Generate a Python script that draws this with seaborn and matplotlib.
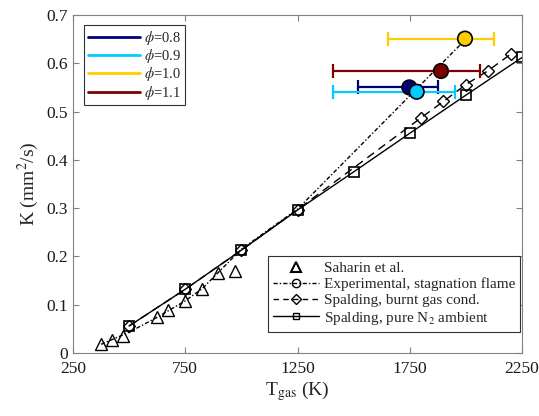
import matplotlib
matplotlib.use("Agg")
import matplotlib.pyplot as plt
from matplotlib.lines import Line2D
import seaborn as sns
import pandas as pd

# Saharin et al. data (triangles)
saharin_T = [375, 425, 475, 625, 675, 750, 825, 895, 970]
saharin_K = [0.018, 0.026, 0.036, 0.074, 0.090, 0.108, 0.133, 0.165, 0.170]

# Experimental fit line (dash-dot)
exp_T = [375, 500, 625, 750, 825, 1000, 1250, 2000]
exp_K = [0.018, 0.043, 0.074, 0.108, 0.133, 0.215, 0.298, 0.650]

# Spalding, burnt gas conditions (diamonds)
burnt_T = [500, 750, 1000, 1250, 1800, 1900, 2000, 2100, 2200]
burnt_K = [0.056, 0.132, 0.213, 0.297, 0.487, 0.521, 0.556, 0.585, 0.619]

# Spalding, pure N2 ambient (squares)
n2_T = [500, 750, 1000, 1250, 1500, 1750, 2000, 2250]
n2_K = [0.056, 0.132, 0.213, 0.296, 0.375, 0.455, 0.534, 0.612]

# Experimental stagnation flame points
phi_labels = ['0.8', '0.9', '1.0', '1.1']
phi_T = [1748, 1781, 1996, 1889]
phi_K = [0.550, 0.541, 0.651, 0.584]
phi_Tlow = [1518, 1407, 1654, 1410]
phi_Thigh = [1877, 1952, 2125, 2063]
phi_colors = ['#00007F', '#00CCFF', '#FFCC00', '#800000']

sns.set_style("ticks")
plt.rcParams['font.family'] = ['Liberation Serif', 'DejaVu Serif']
plt.rcParams['mathtext.fontset'] = 'stix'

fig = plt.figure(figsize=(5.39, 4.16), dpi=100)
ax = fig.add_axes([0.1354, 0.1514, 0.8331, 0.8126])

sns.lineplot(x=n2_T, y=n2_K, ax=ax, color='black', lw=1.0, marker='s',
             markersize=7.5, mfc='none', mec='black', mew=1.2, sort=False)
sns.lineplot(x=burnt_T, y=burnt_K, ax=ax, color='black', lw=1.0, ls=(0, (6, 4)),
             marker='D', markersize=6, mfc='none', mec='black', mew=1.0, sort=False)
sns.lineplot(x=exp_T, y=exp_K, ax=ax, color='black', lw=1.0,
             ls=(0, (3, 1.5, 1, 1.5)), sort=False)
sns.lineplot(x=saharin_T, y=saharin_K, ax=ax, color='black', ls='',
             marker='^', markersize=8, mfc='none', mec='black', mew=1.0, sort=False)

for i in range(len(phi_labels)):
    ax.errorbar(phi_T[i], phi_K[i],
                xerr=[[phi_T[i] - phi_Tlow[i]], [phi_Thigh[i] - phi_T[i]]],
                fmt='none', ecolor=phi_colors[i], elinewidth=1.6, capsize=5,
                capthick=1.6, zorder=4)

df = pd.DataFrame({'T': phi_T, 'K': phi_K, 'phi': phi_labels})
sns.scatterplot(data=df, x='T', y='K', hue='phi', palette=phi_colors, s=110,
                edgecolor='black', linewidth=1.2, ax=ax, legend=False, zorder=5)

ax.set_xlim(250, 2250)
ax.set_ylim(0, 0.7)
ax.set_xticks([250, 750, 1250, 1750, 2250])
ax.set_yticks([0, 0.1, 0.2, 0.3, 0.4, 0.5, 0.6, 0.7])
ax.set_yticklabels(['0', '0.1', '0.2', '0.3', '0.4', '0.5', '0.6', '0.7'])
ax.tick_params(direction='in', length=4, width=0.8, top=True, right=True,
               labelsize=12.5, colors='#808080', labelcolor='#1a1a1a')
ax.tick_params(axis='x', pad=6)
for sp in ax.spines.values():
    sp.set_color('#808080')
    sp.set_linewidth(0.8)

ax.set_xlabel(r'T$_{\mathrm{gas}}$ (K)', fontsize=14, labelpad=1)
ax.set_ylabel(r'K (mm$^2$/s)', fontsize=14, labelpad=4)

# legend for equivalence ratios
phi_handles = [Line2D([0], [0], color=c, lw=2) for c in phi_colors]
leg1 = ax.legend(phi_handles, [r'$\phi$=' + p for p in phi_labels],
                 loc='upper left', bbox_to_anchor=(0.025, 0.97),
                 borderaxespad=0, fontsize=10.5,
                 handlelength=3.6, handletextpad=0.25, labelspacing=0.02,
                 borderpad=0.25, fancybox=False, framealpha=1,
                 edgecolor='#333333')
leg1.get_frame().set_linewidth(0.8)
ax.add_artist(leg1)

model_handles = [
    Line2D([0], [0], color='black', ls='', marker='^', markersize=7,
           mfc='none', mew=1.5),
    Line2D([0], [0], color='black', lw=1.0, ls=(0, (3, 1.5, 1, 1.5)),
           marker='o', markersize=6, mfc='none'),
    Line2D([0], [0], color='black', lw=1.0, ls=(0, (4, 3)),
           marker='D', markersize=5, mfc='none'),
    Line2D([0], [0], color='black', lw=1.0, marker='s', markersize=5,
           mfc='none'),
]
model_labels = ['Saharin et al.', 'Experimental, stagnation flame',
                'Spalding, burnt gas cond.', r'Spalding, pure N$_2$ ambient']
leg2 = ax.legend(model_handles, model_labels, loc='lower right',
                 bbox_to_anchor=(0.996, 0.062), borderaxespad=0, fontsize=11,
                 handlelength=3.0, handletextpad=0.3, labelspacing=0.15,
                 borderpad=0.35, fancybox=False, framealpha=1,
                 edgecolor='#333333')
leg2.get_frame().set_linewidth(0.8)

plt.savefig('out.png', dpi=100)
